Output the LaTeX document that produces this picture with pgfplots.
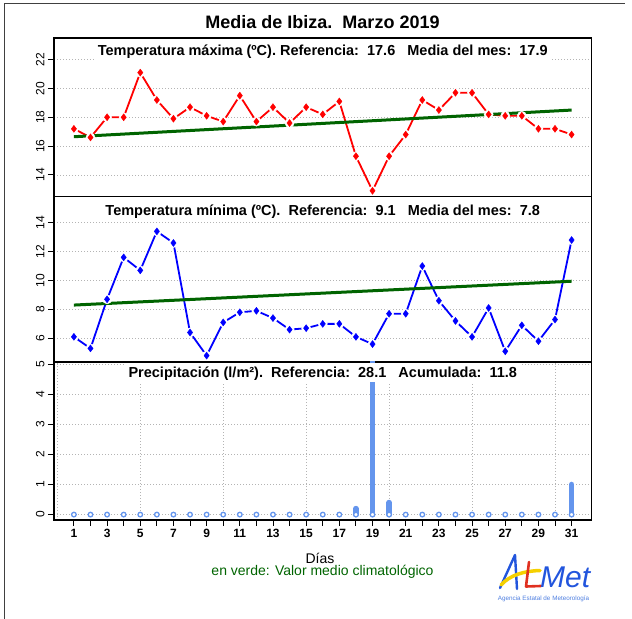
\documentclass[border=0pt]{standalone}
\usepackage{fontspec}
\setmainfont{Liberation Sans}
\usepackage{pgfplots}
\usepackage{pgfplotstable}
\pgfplotsset{compat=1.18}
\definecolor{dgreen}{HTML}{006400}
\definecolor{cfblue}{HTML}{6495ED}
\definecolor{gridc}{HTML}{B4B4B4}
\definecolor{aemetblue}{HTML}{2255DD}
\definecolor{aemetlight}{HTML}{4F7FE0}
\definecolor{aemetyellow}{HTML}{F5D000}
\definecolor{aemetred}{HTML}{E03020}

\pgfplotstableread{
d v
1 17.2
2 16.6
3 18.0
4 18.0
5 21.1
6 19.2
7 17.9
8 18.7
9 18.1
10 17.7
11 19.5
12 17.7
13 18.7
14 17.6
15 18.7
16 18.2
17 19.1
18 15.3
19 12.9
20 15.3
21 16.8
22 19.2
23 18.5
24 19.7
25 19.7
26 18.2
27 18.1
28 18.1
29 17.2
30 17.2
31 16.8
}\tmax

\pgfplotstableread{
d v
1 6.1
2 5.3
3 8.7
4 11.6
5 10.7
6 13.4
7 12.6
8 6.4
9 4.8
10 7.1
11 7.8
12 7.9
13 7.4
14 6.6
15 6.7
16 7.0
17 7.0
18 6.1
19 5.6
20 7.7
21 7.7
22 11.0
23 8.6
24 7.2
25 6.1
26 8.1
27 5.1
28 6.9
29 5.8
30 7.3
31 12.8
}\tmin

\pgfplotstableread{
d p
1 0
2 0
3 0
4 0
5 0
6 0
7 0
8 0
9 0
10 0
11 0
12 0
13 0
14 0
15 0
16 0
17 0
18 0.2
19 10.2
20 0.4
21 0
22 0
23 0
24 0
25 0
26 0
27 0
28 0
29 0
30 0
31 1.0
}\prec

\pgfplotsset{
  panel/.style={
    scale only axis, width=537.5bp, anchor=south west,
    xmin=-0.2, xmax=32.2,
    axis line style={black, line width=1.2bp},
    every tick/.style={black, line width=0.9bp},
    tick align=outside, major tick length=6bp, minor tick length=0pt,
    ytick pos=left, xtick pos=bottom,
    minor xtick={0,5,...,30},
    xminorgrids, ymajorgrids,
    major grid style={gridc, line width=0.8bp, dash pattern=on 0.9bp off 2.1bp},
    minor grid style={gridc, line width=0.8bp, dash pattern=on 0.9bp off 2.1bp},
    yticklabel style={rotate=90, anchor=south, font=\fontsize{12bp}{12bp}\selectfont},
    /pgf/number format/assume math mode=true,
  },
}
\tikzset{
  ptitle/.style={fill=white, inner xsep=3bp, inner ysep=1bp, anchor=base,
    font=\fontsize{14.5bp}{16bp}\selectfont\bfseries},
}

\begin{document}
\begin{tikzpicture}[x=1bp,y=1bp]
\path[use as bounding box] (0bp,0bp) rectangle (632bp,619bp);
\draw[black!75, line width=1bp] (4bp,0bp) -- (4bp,615.5bp) -- (625bp,615.5bp);

\node[anchor=base, font=\fontsize{18bp}{20bp}\selectfont\bfseries] at (322.5bp,590.7bp) {Media de Ibiza.\ \ Marzo 2019};

% ---- Tmax
\begin{axis}[panel, at={(54bp,422.3bp)}, height=158.7bp,
  ymin=12.49, ymax=23.5, ytick={14,16,18,20,22}, xtick=\empty]
\addplot[red, line width=1.8bp] table[x=d,y=v] {\tmax};
\addplot[only marks, mark=*, mark size=4.6bp, mark options={draw=white, fill=white}] table[x=d,y=v] {\tmax};
\addplot[dgreen, line width=3bp] coordinates {(1,16.65) (31,18.5)};
\addplot[only marks, mark=diamond*, mark size=3.5bp, mark options={draw=red, fill=red}] table[x=d,y=v] {\tmax};
\node[ptitle] at (rel axis cs:0.5,1) [yshift=-18bp] {Temperatura máxima (ºC). Referencia:\ \ 17.6\ \ \ Media del mes:\ \ 17.9};
\end{axis}

% ---- Tmin
\begin{axis}[panel, at={(54bp,257bp)}, height=165.3bp,
  ymin=4.36, ymax=15.8, ytick={6,8,10,12,14}, xtick=\empty]
\addplot[blue, line width=1.8bp] table[x=d,y=v] {\tmin};
\addplot[only marks, mark=*, mark size=4.6bp, mark options={draw=white, fill=white}] table[x=d,y=v] {\tmin};
\addplot[dgreen, line width=3bp] coordinates {(1,8.3) (31,9.95)};
\addplot[only marks, mark=diamond*, mark size=3.5bp, mark options={draw=blue, fill=blue}] table[x=d,y=v] {\tmin};
\node[ptitle] at (rel axis cs:0.5,1) [yshift=-19bp] {Temperatura mínima (ºC).\ \ Referencia:\ \ 9.1\ \ \ Media del mes:\ \ 7.8};
\end{axis}

% ---- Precipitation
\begin{axis}[panel, at={(54bp,99bp)}, height=158bp,
  ymin=-0.18, ymax=5.07, ytick={0,1,2,3,4,5},
  xtick={1,...,31},
  xticklabels={1,,3,,5,,7,,9,,11,,13,,15,,17,,19,,21,,23,,25,,27,,29,,31},
  xticklabel style={font=\fontsize{12bp}{12bp}\selectfont\bfseries}]
\addplot[ycomb, cfblue, line width=5.5bp, line cap=round, restrict y to domain=0.05:50] table[x=d,y=p] {\prec};
\addplot[only marks, mark=*, mark size=2.3bp, mark options={draw=cfblue, fill=white, line width=1.3bp}] coordinates {
(1,0)(2,0)(3,0)(4,0)(5,0)(6,0)(7,0)(8,0)(9,0)(10,0)(11,0)(12,0)(13,0)(14,0)(15,0)(16,0)
(17,0)(18,0)(19,0)(20,0)(21,0)(22,0)(23,0)(24,0)(25,0)(26,0)(27,0)(28,0)(29,0)(30,0)(31,0)};
\node[ptitle, text height=13.9bp] at (rel axis cs:0.5,1) [yshift=-15.7bp] {Precipitación (l/m²).\ \ Referencia:\ \ 28.1\ \ \ Acumulada:\ \ 11.8};
\end{axis}

\node[anchor=base, font=\fontsize{14bp}{16bp}\selectfont] at (320bp,55.3bp) {Días};
\node[anchor=base, text=dgreen, font=\fontsize{14bp}{16bp}\selectfont] at (322.5bp,43bp) {en verde: Valor medio climatológico};

% ---- logo
\draw[aemetblue, line width=2.4bp, line cap=round, line join=round] (500bp,31bp) -- (515bp,64bp) -- (517bp,30bp);
\draw[aemetyellow, line width=3.5bp, line cap=round] (501bp,34bp) .. controls (510bp,44bp) and (524bp,48bp) .. (540bp,48.5bp);
\draw[aemetred, line width=2.6bp, line cap=round, line join=round] (529bp,57bp) -- (526bp,32.5bp) -- (541bp,33bp);
\node[anchor=base west, text=aemetblue, inner sep=0pt, font=\fontsize{30bp}{30bp}\selectfont\itshape] at (540bp,32bp) {Met};
\node[anchor=base, text=aemetlight, inner sep=0pt, font=\fontsize{6.3bp}{7bp}\selectfont] at (543.5bp,19bp) {Agencia Estatal de Meteorología};
\end{tikzpicture}
\end{document}
